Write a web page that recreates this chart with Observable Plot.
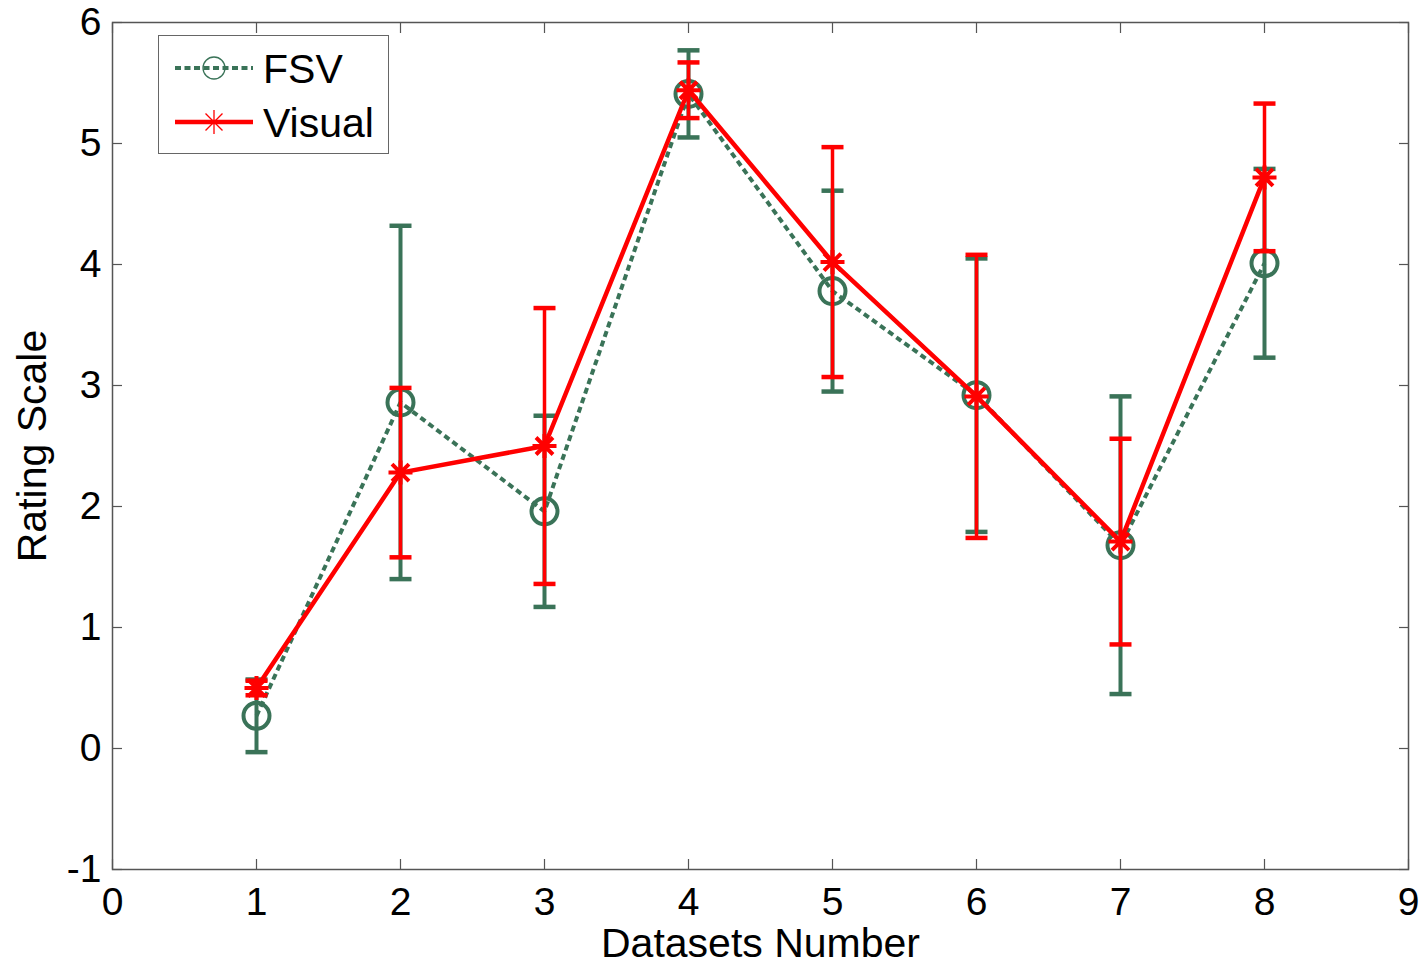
<!DOCTYPE html>
<html><head><meta charset="utf-8">
<script src="https://cdn.jsdelivr.net/npm/d3@7"></script>
<script src="https://cdn.jsdelivr.net/npm/@observablehq/plot@0.6"></script>
<style>
body{margin:0;background:#fff;}
#wrap{position:relative;width:1422px;height:966px;font-family:"Liberation Sans",Arial,sans-serif;}
#legend{position:absolute;left:158px;top:35px;width:231px;height:119px;border:1.5px solid #666;background:#fff;box-sizing:border-box;}
</style></head><body><div id="wrap"><div id="legend"></div></div>
<script>
// ---- data ----
const datasets = [1, 2, 3, 4, 5, 6, 7, 8];
const fsvMean = [0.27, 2.86, 1.96, 5.41, 3.78, 2.92, 1.68, 4.01];
const fsvErr  = [0.30, 1.46, 0.79, 0.36, 0.83, 1.13, 1.23, 0.78];
const visMean = [0.50, 2.28, 2.50, 5.44, 4.02, 2.91, 1.71, 4.72];
const visErr  = [0.06, 0.70, 1.14, 0.23, 0.95, 1.17, 0.85, 0.61];
const seriesNames = ["FSV", "Visual"];
const xTicks = [0, 1, 2, 3, 4, 5, 6, 7, 8, 9];
const yTicks = [-1, 0, 1, 2, 3, 4, 5, 6];
const xTitle = "Datasets Number";
const yTitle = "Rating Scale";

const GREEN = "#3a7358";
const RED = "#ff0000";
const FONT = "'Liberation Sans', Arial, sans-serif";

const fsv = datasets.map((x, i) => ({x, series: seriesNames[0], mean: fsvMean[i], lo: fsvMean[i] - fsvErr[i], hi: fsvMean[i] + fsvErr[i]}));
const vis = datasets.map((x, i) => ({x, series: seriesNames[1], mean: visMean[i], lo: visMean[i] - visErr[i], hi: visMean[i] + visErr[i]}));

// custom symbols
const capSymbol = {draw(ctx, size) { const r = Math.sqrt(size / Math.PI); ctx.moveTo(-r, 0); ctx.lineTo(r, 0); }};
const star8 = {draw(ctx, size) {
  const r = Math.sqrt(size / Math.PI);
  for (let k = 0; k < 4; k++) {
    const a = k * Math.PI / 4;
    ctx.moveTo(r * Math.cos(a), r * Math.sin(a));
    ctx.lineTo(-r * Math.cos(a), -r * Math.sin(a));
  }
}};

const tickStyle = {stroke: "#555", strokeWidth: 1.2};

const chart = Plot.plot({
  width: 1422,
  height: 966,
  marginLeft: 112,
  marginRight: 14,
  marginTop: 22,
  marginBottom: 97,
  style: {fontFamily: FONT, fontSize: "39px", color: "#000", background: "#fff", overflow: "visible"},
  x: {domain: [0, 9]},
  y: {domain: [-1, 6]},
  marks: [
    Plot.frame({stroke: "#555", strokeWidth: 1.5}),
    // inward ticks on all four sides
    Plot.axisX(xTicks, {anchor: "bottom", tickSize: -10, tickFormat: () => "", label: null, ...tickStyle}),
    Plot.axisX(xTicks, {anchor: "top", tickSize: -10, tickFormat: () => "", label: null, ...tickStyle}),
    Plot.axisY(yTicks, {anchor: "left", tickSize: -10, tickFormat: () => "", label: null, ...tickStyle}),
    Plot.axisY(yTicks, {anchor: "right", tickSize: -10, tickFormat: () => "", label: null, ...tickStyle}),
    // tick labels
    Plot.axisX(xTicks, {anchor: "bottom", tickSize: 0, tickPadding: 18, tickFormat: d => String(d), label: null, fontSize: 39}),
    Plot.axisY(yTicks, {anchor: "left", tickSize: 0, tickPadding: 11, tickFormat: d => String(d), label: null, fontSize: 39}),
    // titles
    Plot.text([xTitle], {frameAnchor: "bottom", textAnchor: "middle", dy: 74, fontSize: 41, lineAnchor: "middle"}),
    Plot.text([yTitle], {frameAnchor: "left", textAnchor: "middle", dx: -80, rotate: -90, fontSize: 41, lineAnchor: "middle"}),

    // FSV series
    Plot.line(fsv, {x: "x", y: "mean", stroke: GREEN, strokeWidth: 4, strokeDasharray: "6,4", strokeLinecap: "butt", strokeLinejoin: "miter"}),
    Plot.ruleX(fsv, {x: "x", y1: "lo", y2: "hi", stroke: GREEN, strokeWidth: 4}),
    Plot.dot(fsv, {x: "x", y: "hi", symbol: capSymbol, r: 11, stroke: GREEN, strokeWidth: 4.5}),
    Plot.dot(fsv, {x: "x", y: "lo", symbol: capSymbol, r: 11, stroke: GREEN, strokeWidth: 4.5}),
    Plot.dot(fsv, {x: "x", y: "mean", symbol: "circle", r: 13, stroke: GREEN, strokeWidth: 4, fill: "none"}),

    // Visual series
    Plot.line(vis, {x: "x", y: "mean", stroke: RED, strokeWidth: 4.5}),
    Plot.ruleX(vis, {x: "x", y1: "lo", y2: "hi", stroke: RED, strokeWidth: 3.5}),
    Plot.dot(vis, {x: "x", y: "hi", symbol: capSymbol, r: 11, stroke: RED, strokeWidth: 4.5}),
    Plot.dot(vis, {x: "x", y: "lo", symbol: capSymbol, r: 11, stroke: RED, strokeWidth: 4.5}),
    Plot.dot(vis, {x: "x", y: "mean", symbol: star8, r: 12, stroke: RED, strokeWidth: 4})
  ]
});
const wrap = document.getElementById("wrap");
wrap.insertBefore(chart, wrap.firstChild);

// legend (inside plot, top-left)
const legend = document.getElementById("legend");
const lsvg = d3.create("svg").attr("width", 228).attr("height", 116).style("display", "block");
const rows = [
  {name: seriesNames[0], y: 32, color: GREEN, dash: "6,3.5", width: 4, mark: "circle"},
  {name: seriesNames[1], y: 86, color: RED, dash: null, width: 4.5, mark: "star"}
];
for (const r of rows) {
  lsvg.append("line").attr("x1", 16).attr("x2", 94).attr("y1", r.y).attr("y2", r.y)
    .attr("stroke", r.color).attr("stroke-width", r.width).attr("stroke-dasharray", r.dash);
  if (r.mark === "circle") {
    lsvg.append("circle").attr("cx", 55).attr("cy", r.y).attr("r", 11).attr("fill", "none")
      .attr("stroke", r.color).attr("stroke-width", 1.3);
  } else {
    const p = d3.path(); star8.draw(p, Math.PI * 12 * 12);
    lsvg.append("path").attr("d", p.toString()).attr("transform", `translate(55,${r.y})`)
      .attr("stroke", r.color).attr("stroke-width", 1.3).attr("fill", "none");
  }
  lsvg.append("text").attr("x", 104).attr("y", r.y).attr("dy", "0.36em")
    .attr("font-family", FONT).attr("font-size", 41).attr("fill", "#000").text(r.name);
}
legend.appendChild(lsvg.node());
</script>
</body></html>
